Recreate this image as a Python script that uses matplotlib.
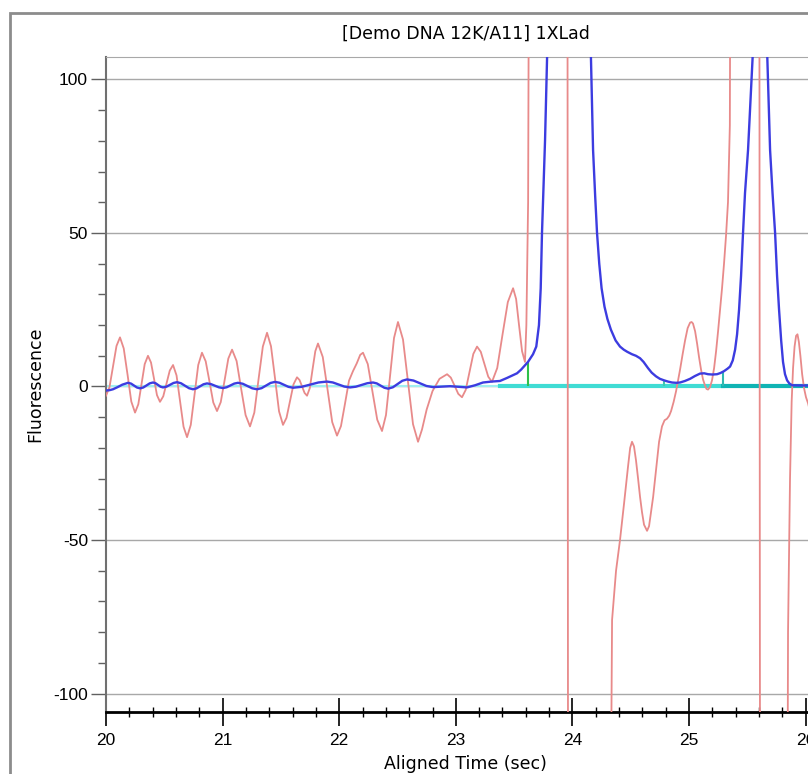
import matplotlib
matplotlib.use('Agg')
import matplotlib.pyplot as plt
from matplotlib.patches import Rectangle
from matplotlib.ticker import MultipleLocator

plt.rcParams['font.family'] = ['Liberation Sans', 'DejaVu Sans']
plt.rcParams['axes.unicode_minus'] = False

title = '[Demo DNA 12K/A11] 1XLad'

# raw (red) trace; +-300 = off scale
red_t = [20.000, 20.030, 20.060, 20.090, 20.120, 20.152, 20.185, 20.217, 20.249, 20.277,
         20.305, 20.332, 20.360, 20.386, 20.412, 20.437, 20.463, 20.491, 20.519, 20.547,
         20.575, 20.605, 20.635, 20.665, 20.695, 20.727, 20.759, 20.791, 20.823, 20.855,
         20.888, 20.920, 20.952, 20.984, 21.017, 21.049, 21.081, 21.120, 21.158, 21.197,
         21.235, 21.272, 21.308, 21.345, 21.381, 21.415, 21.450, 21.484, 21.518, 21.548,
         21.578, 21.608, 21.638, 21.660, 21.681, 21.703, 21.724, 21.748, 21.771, 21.795,
         21.818, 21.859, 21.900, 21.940, 21.981, 22.015, 22.050, 22.084, 22.118, 22.150,
         22.180, 22.204, 22.245, 22.286, 22.326, 22.367, 22.401, 22.436, 22.470, 22.504,
         22.547, 22.590, 22.633, 22.676, 22.710, 22.750, 22.800, 22.860, 22.925, 22.957,
         22.989, 23.021, 23.053, 23.085, 23.118, 23.150, 23.182, 23.214, 23.246, 23.278,
         23.310, 23.355, 23.400, 23.446, 23.491, 23.517, 23.542, 23.568, 23.593, 23.605,
         23.620, 23.640, 23.955, 23.965, 24.300, 24.340, 24.374, 24.408, 24.443, 24.477,
         24.495, 24.511, 24.528, 24.545, 24.563, 24.580, 24.597, 24.614, 24.640, 24.657,
         24.674, 24.692, 24.709, 24.726, 24.743, 24.768, 24.790, 24.811, 24.830, 24.846,
         24.868, 24.889, 24.906, 24.923, 24.945, 24.966, 24.988, 25.009, 25.022, 25.034,
         25.052, 25.069, 25.086, 25.103, 25.120, 25.137, 25.150, 25.163, 25.180, 25.197,
         25.215, 25.232, 25.249, 25.266, 25.283, 25.300, 25.317, 25.334, 25.350, 25.365,
         25.600, 25.612, 25.832, 25.849, 25.866, 25.880, 25.892, 25.905, 25.918, 25.930,
         25.942, 25.955, 25.970, 25.986, 26.003, 26.021, 26.175]
red_v = [-3, -0.2, 6.5, 13.2, 16, 12.4, 3.8, -4.9, -8.5, -5.8,
         0.8, 7.3, 10, 7.8, 2.5, -2.8, -5, -3.2, 1, 5.2,
         7, 3.6, -4.8, -13.1, -16.5, -12.5, -2.8, 7.0, 11, 8.2,
         1.5, -5.2, -8, -5.1, 2, 9.1, 12, 8.3, -0.5, -9.3,
         -13, -8.5, 2.3, 13.0, 17.5, 13.1, 2.5, -8.1, -12.5, -10.2,
         -4.8, 0.7, 3, 2.1, 0, -2.1, -3, -0.5, 5.5, 11.5,
         14, 9.6, -1, -11.6, -16, -12.9, -5.5, 1.9, 5, 7.5,
         10.3, 11, 7.3, -1.8, -10.8, -14.5, -9.3, 3.3, 15.8, 21,
         15.3, 1.5, -12.3, -18, -14, -7.5, -1.5, 2.5, 4, 2.9,
         0.3, -2.4, -3.5, -1.1, 4.8, 10.6, 13, 11.3, 7.3, 3.2,
         1.5, 6.0, 16.8, 27.5, 32, 28.5, 20, 11.5, 8, 20,
         60, 300, 300, -300, -300, -76, -60, -50, -38, -26,
         -20, -18, -19.5, -24, -30, -36, -41, -45, -47, -45.5,
         -41, -36, -30, -24, -18, -13, -11, -10.5, -9.5, -8,
         -5, -1.5, 2, 5.5, 10.5, 15, 19, 20.8, 21, 20.5,
         18, 14, 9.5, 5.5, 2.3, 0.3, -0.8, -1, -0.2, 2,
         6, 11.5, 18, 25, 32, 40, 49, 60, 85, 300,
         300, -300, -300, -80, -30, -5, 6, 13, 16.5, 17,
         14.5, 10, 4, -0.5, -3.5, -5.5, -30]

# analyzed (blue) trace
blue_t = [20.000, 20.030, 20.060, 20.100, 20.140, 20.189, 20.215, 20.240, 20.266, 20.292,
          20.320, 20.348, 20.375, 20.403, 20.425, 20.446, 20.468, 20.489, 20.519, 20.549,
          20.579, 20.609, 20.643, 20.678, 20.712, 20.746, 20.776, 20.806, 20.836, 20.866,
          20.900, 20.935, 20.969, 21.003, 21.035, 21.068, 21.100, 21.132, 21.173, 21.214,
          21.254, 21.295, 21.334, 21.372, 21.411, 21.449, 21.488, 21.527, 21.565, 21.604,
          21.677, 21.750, 21.822, 21.895, 21.945, 21.994, 22.044, 22.093, 22.142, 22.192,
          22.241, 22.290, 22.322, 22.355, 22.387, 22.419, 22.460, 22.500, 22.541, 22.581,
          22.637, 22.693, 22.748, 22.804, 22.950, 23.096, 23.165, 23.233, 23.305, 23.379,
          23.440, 23.525, 23.560, 23.619, 23.662, 23.690, 23.713, 23.728, 23.739, 23.752,
          23.765, 23.791, 23.971, 24.151, 24.177, 24.195, 24.211, 24.230, 24.250, 24.275,
          24.300, 24.330, 24.370, 24.408, 24.440, 24.470, 24.511, 24.545, 24.580, 24.610,
          24.648, 24.680, 24.717, 24.750, 24.786, 24.820, 24.854, 24.890, 24.923, 24.965,
          25.009, 25.050, 25.094, 25.130, 25.163, 25.200, 25.240, 25.270, 25.300, 25.330,
          25.352, 25.375, 25.395, 25.412, 25.429, 25.446, 25.463, 25.480, 25.506, 25.549,
          25.609, 25.669, 25.695, 25.716, 25.738, 25.755, 25.772, 25.790, 25.806, 25.823,
          25.841, 25.860, 25.883, 26.175]
blue_v = [-1.3, -1.2, -0.9, -0.2, 0.6, 1.2, 0.94, 0.3, -0.34, -0.6,
          -0.32, 0.35, 1.02, 1.3, 1.07, 0.5, -0.07, -0.3, -0.05, 0.55,
          1.15, 1.4, 1.06, 0.25, -0.56, -0.9, -0.62, 0.05, 0.72, 1.0,
          0.78, 0.25, -0.28, -0.5, -0.25, 0.35, 0.95, 1.2, 0.89, 0.15,
          -0.59, -0.9, -0.55, 0.3, 1.15, 1.5, 1.22, 0.55, -0.12, -0.4,
          -0.11, 0.6, 1.31, 1.6, 1.32, 0.65, -0.02, -0.3, -0.07, 0.5,
          1.07, 1.3, 1.01, 0.3, -0.41, -0.7, -0.26, 0.8, 1.86, 2.3,
          1.94, 1.05, 0.17, -0.2, 0.1, -0.3, 0.4, 1.3, 1.6, 1.8,
          2.8, 4.3, 5.5, 8, 10.5, 13, 20, 32, 50, 65,
          80, 120, 400, 120, 77, 62, 50, 40, 32, 26,
          22, 18.5, 15, 13, 12, 11.3, 10.5, 10, 9.2, 8,
          6, 4.5, 3.3, 2.5, 2, 1.6, 1.3, 1.2, 1.3, 1.8,
          2.5, 3.4, 4.2, 4.3, 4, 3.9, 4, 4.4, 5, 5.8,
          6.5, 8.5, 12, 17, 25, 36, 50, 63, 77, 110,
          300, 110, 77, 63, 50, 36, 25, 15, 8, 4,
          2, 1, 0.4, 0.2]

# baseline and peak markers
base_t1 = [23.38, 25.29]
base_t2 = [25.29, 26.175]
base_v = [0.3, 0.3]
mark_t = [23.619, 24.786, 25.29]
mark_h = [8, 2, 5]
mark_c = ['#2ec04a', '#40c8b0', '#30b8b0']

fig = plt.figure(figsize=(8.08, 7.74), dpi=100)
ax = fig.add_axes([106 / 808, 62 / 774, 719 / 808, 655 / 774])

ax.yaxis.grid(True, color='#a8a8a8', lw=1, zorder=0)
ax.set_axisbelow(True)

ax.plot([20, 23.38], base_v, color='#a0f0f0', lw=1.5, zorder=2)
ax.plot(base_t1, base_v, color='#40dcd4', lw=3, zorder=2)
ax.plot(base_t2, base_v, color='#10b4b4', lw=3, zorder=2)
ax.plot(red_t, red_v, color='#e88a8a', lw=1.3, zorder=3)
ax.vlines(mark_t, 0.3, mark_h, colors=mark_c, lw=1.5, zorder=4)
ax.plot(blue_t, blue_v, color='#3c3ce0', lw=1.7, zorder=5)

ax.set_xlim(20, 26.166)
ax.set_ylim(-106, 107.3)
ax.set_yticks([-100, -50, 0, 50, 100])
ax.yaxis.set_minor_locator(MultipleLocator(10))
ax.xaxis.set_major_locator(MultipleLocator(1))
ax.xaxis.set_minor_locator(MultipleLocator(0.2))

ax.spines['right'].set_visible(False)
ax.spines['top'].set_color('#a8a8a8')
ax.spines['left'].set_color('#707070')
ax.spines['left'].set_linewidth(1.5)
ax.spines['bottom'].set_color('black')
ax.spines['bottom'].set_linewidth(2)

ax.tick_params(axis='y', which='major', direction='out', length=11, width=1,
               color='#606060', labelsize=12.5, pad=2)
ax.tick_params(axis='y', which='minor', direction='out', length=6, width=1, color='#606060')
ax.tick_params(axis='x', which='major', direction='inout', length=20, width=1.2,
               labelsize=12.5, pad=5)
ax.tick_params(axis='x', which='minor', direction='inout', length=7, width=1)

ax.set_title(title, fontsize=12.5, pad=13, family='DejaVu Sans')
ax.set_xlabel('Aligned Time (sec)', fontsize=12.5, va='top', family='DejaVu Sans')
ax.xaxis.set_label_coords(0.5, -0.066)
ax.set_ylabel('Fluorescence', fontsize=12.5, va='center', family='DejaVu Sans')
ax.yaxis.set_label_coords(-71 / 719, 0.5)

fig.patches.append(Rectangle((10 / 808, -0.1), 2, 1.1 - 13 / 774, transform=fig.transFigure,
                             fill=False, ec='#8c8c8c', lw=2))

fig.savefig('out.png', dpi=100)
